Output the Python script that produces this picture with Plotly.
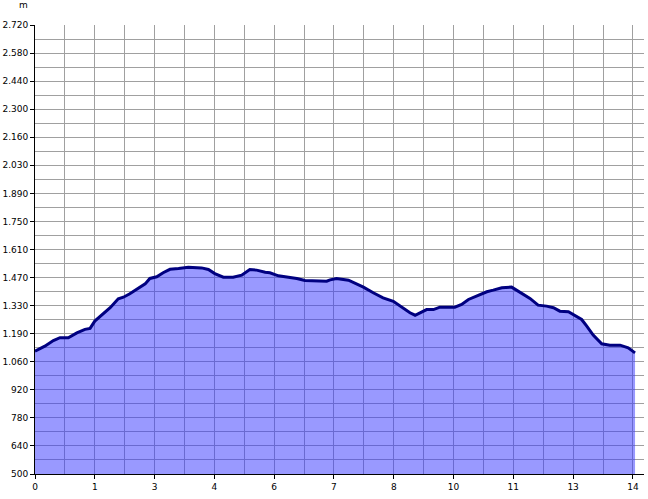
import plotly.graph_objects as go

# Distance (km) and elevation (m)
dist_km = [0.00, 0.23, 0.43, 0.585, 0.78, 0.98, 1.17, 1.29, 1.40, 1.56, 1.76, 1.95, 2.07, 2.22,
           2.42, 2.58, 2.69, 2.85, 3.00, 3.16, 3.36, 3.59, 3.90, 4.06, 4.21, 4.41, 4.64, 4.84,
           5.03, 5.19, 5.39, 5.50, 5.70, 5.93, 6.13, 6.32, 6.59, 6.83, 6.91, 7.06, 7.34, 7.49,
           7.69, 7.92, 8.15, 8.39, 8.59, 8.78, 8.90, 9.01, 9.17, 9.33, 9.48, 9.83, 9.99, 10.15,
           10.34, 10.42, 10.58, 10.73, 10.93, 11.16, 11.36, 11.59, 11.78, 11.98, 12.14, 12.29,
           12.49, 12.64, 12.80, 12.92, 13.07, 13.27, 13.46, 13.70, 13.89, 14.05]
elev_m = [1107, 1132, 1160, 1174, 1174, 1198, 1215, 1220, 1256, 1284, 1322, 1366, 1374, 1391,
          1416, 1440, 1467, 1475, 1495, 1512, 1516, 1522, 1519, 1511, 1491, 1473, 1473, 1483,
          1511, 1508, 1498, 1495, 1480, 1473, 1467, 1457, 1453, 1453, 1460, 1467, 1458, 1445,
          1424, 1396, 1371, 1354, 1325, 1297, 1285, 1297, 1313, 1313, 1325, 1325, 1338, 1363,
          1379, 1388, 1401, 1409, 1421, 1424, 1396, 1368, 1335, 1330, 1322, 1305,
          1302, 1284, 1264, 1231, 1187, 1144, 1137, 1137, 1124, 1099]

y_tickvals = [500 + k * 138.75 for k in range(17)]
y_ticktext = ["500", "640", "780", "920", "1.060", "1.190", "1.330", "1.470", "1.610",
              "1.750", "1.890", "2.030", "2.160", "2.300", "2.440", "2.580", "2.720"]
y_minor = [500 + (k + 0.5) * 138.75 for k in range(16)]

x_tickvals = [k * 1.4 for k in range(11)]
x_ticktext = ["0", "1", "3", "4", "6", "7", "8", "10", "11", "13", "14"]
x_minor = [(k + 0.5) * 1.4 for k in range(10)]

grid = "#a0a0a0"
font = dict(family="DejaVu Sans", size=9, color="#000000")

fig = go.Figure()
fig.add_trace(go.Scatter(
    x=dist_km, y=elev_m, mode="lines",
    line=dict(color="#000080", width=3),
    fill="tozeroy", fillcolor="rgba(51,51,255,0.5)",
    hoverinfo="skip",
))

fig.update_layout(
    width=648, height=499,
    margin=dict(l=35, r=4, t=25, b=25, autoexpand=False),
    paper_bgcolor="white", plot_bgcolor="white",
    showlegend=False,
    font=font,
    xaxis=dict(
        range=[0, 14.26], tickmode="array", tickvals=x_tickvals, ticktext=x_ticktext,
        showgrid=True, gridcolor=grid, gridwidth=1,
        ticks="outside", ticklen=4, tickcolor="#000000",
        showline=True, linecolor="#000000", linewidth=1,
        zeroline=False, tickfont=font, automargin=False,
        minor=dict(tickvals=x_minor, showgrid=True, gridcolor=grid, gridwidth=1, ticks=""),
    ),
    yaxis=dict(
        range=[500, 2720], tickmode="array", tickvals=y_tickvals, ticktext=y_ticktext,
        showgrid=True, gridcolor=grid, gridwidth=1,
        ticks="outside", ticklen=4, tickcolor="#000000",
        showline=True, linecolor="#000000", linewidth=1,
        zeroline=False, tickfont=font, automargin=False,
        minor=dict(tickvals=y_minor, showgrid=True, gridcolor=grid, gridwidth=1, ticks=""),
    ),
    annotations=[dict(text="m", x=(23 - 35) / 609, y=(499 - 25 - 5) / 449,
                      xref="paper", yref="paper", showarrow=False,
                      xanchor="center", yanchor="middle",
                      font=dict(family="DejaVu Sans", size=9, color="#000000"))],
)

fig.write_html("out.html", config={"displayModeBar": False},
               post_script="document.body.style.margin='0';document.body.style.overflow='hidden';")
